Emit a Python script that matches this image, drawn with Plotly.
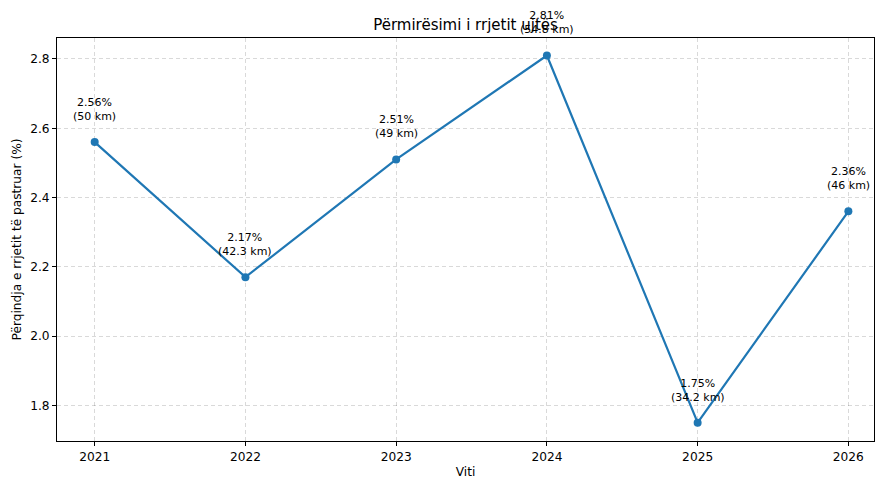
import plotly.graph_objects as go

years = [2021, 2022, 2023, 2024, 2025, 2026]
percent = [2.56, 2.17, 2.51, 2.81, 1.75, 2.36]
km = [50, 42.3, 49, 54.8, 34.2, 46]
labels = [f"{p:.2f}%<br>({k:g} km)" for p, k in zip(percent, km)]

FONT = "DejaVu Sans"
fig = go.Figure()
fig.add_trace(go.Scatter(
    x=years, y=percent, mode="lines+markers",
    line=dict(color="#1f77b4", width=2.2),
    marker=dict(color="#1f77b4", size=8),
    showlegend=False, cliponaxis=False,
))
for x, y, t in zip(years, percent, labels):
    fig.add_annotation(x=x, y=y, text=t, showarrow=False, yanchor="bottom",
                       yshift=17, font=dict(family=FONT, size=11, color="black"))

axis_common = dict(
    showline=True, linecolor="black", linewidth=1, mirror=True,
    ticks="outside", ticklen=4, tickcolor="black",
    showgrid=True, gridcolor="rgba(0,0,0,0.15)", griddash="4px,3px", gridwidth=1,
    zeroline=False, tickfont=dict(family=FONT, size=12.2, color="black"),
    automargin=False,
)
fig.update_xaxes(range=[2020.75, 2026.17], tickvals=years, ticktext=[str(y) for y in years],
                 title=dict(text="Viti", font=dict(family=FONT, size=12.2, color="black"), standoff=7),
                 **axis_common)
fig.update_yaxes(range=[1.697, 2.8605], tickvals=[1.8, 2.0, 2.2, 2.4, 2.6, 2.8],
                 ticktext=["1.8", "2.0", "2.2", "2.4", "2.6", "2.8"],
                 title=dict(text="Përqindja e rrjetit të pastruar (%)", font=dict(family=FONT, size=12.2, color="black"), standoff=5),
                 **axis_common)
fig.update_layout(
    width=875, height=479,
    margin=dict(l=57, r=1, t=38, b=38, autoexpand=False),
    plot_bgcolor="white", paper_bgcolor="white",
    title=dict(text="Përmirësimi i rrjetit ujtës", x=0.5, xref="paper", xanchor="center",
               y=1 - 25/479, yanchor="middle", font=dict(family=FONT, size=15, color="black")),
    font=dict(family=FONT),
)
fig.write_html("out.html", config={"displayModeBar": False},
               post_script="document.body.style.margin='0';document.body.style.overflow='hidden';")
